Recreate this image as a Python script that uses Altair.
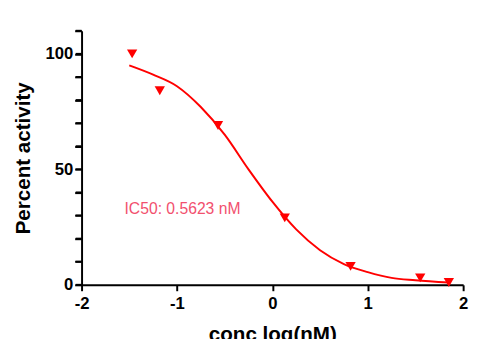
import altair as alt
import pandas as pd

# Measured data points (log concentration, percent activity)
conc_log = [-1.47, -1.18, -0.57, 0.13, 0.82, 1.55, 1.85]
activity = [100, 84, 69, 29, 8, 3, 1]

# Fitted curve
curve_x = [-1.5, -1.25, -1.0, -0.75, -0.5, -0.25, 0.0, 0.25, 0.5, 0.75, 1.0, 1.25, 1.5, 1.85]
curve_y = [95, 91, 86, 77, 65, 50, 36, 24, 15, 9, 5.5, 3, 2, 1]

label_text = ["IC50: 0.5623 nM"]
label_x = [-1.55]
label_y = [33]

y_ticks = [0, 10, 20, 30, 40, 50, 60, 70, 80, 90, 100, 110]
x_ticks = [-2, -1, 0, 1, 2]

df = pd.concat([
    pd.DataFrame({"x": conc_log, "y": activity, "kind": "pt", "t": ""}),
    pd.DataFrame({"x": curve_x, "y": curve_y, "kind": "curve", "t": ""}),
    pd.DataFrame({"x": label_x, "y": label_y, "kind": "label", "t": label_text}),
], ignore_index=True)
ticks_df = pd.DataFrame({"y": y_ticks})

FONT = "Liberation Sans"

xsc = alt.Scale(domain=[-2, 2], nice=False, zero=False)
ysc = alt.Scale(domain=[0, 110], nice=False, zero=False)

xax = alt.Axis(
    values=x_ticks, title="conc log(nM)", grid=False,
    labelExpr="toString(datum.value)", labelOverlap=False,
    labelFont=FONT, labelFontSize=17, labelFontWeight="bold", labelColor="black",
    titleFont=FONT, titleFontSize=21, titleFontWeight="bold", titleColor="black",
    domainColor="black", domainWidth=2, tickColor="black", tickWidth=2, tickSize=6,
    labelPadding=5, titlePadding=13, labelFlush=False,
)
yax = alt.Axis(
    values=y_ticks, tickCount=12, title="Percent activity", grid=False,
    labelExpr="(datum.value == 0 || datum.value == 50 || datum.value == 100) ? toString(datum.value) : ''",
    labelOverlap=False,
    labelFont=FONT, labelFontSize=17, labelFontWeight="bold", labelColor="black",
    titleFont=FONT, titleFontSize=21, titleFontWeight="bold", titleColor="black",
    domainColor="black", domainWidth=2, tickColor="black", tickWidth=2, tickSize=7,
    labelPadding=2, titlePadding=12, labelFlush=False,
)

base = alt.Chart(df).encode(
    x=alt.X("x:Q", scale=xsc, axis=xax),
    y=alt.Y("y:Q", scale=ysc, axis=yax),
)

line = base.transform_filter(alt.datum.kind == "curve").mark_line(
    color="#ff0000", strokeWidth=2, interpolate="monotone")
points = base.transform_filter(alt.datum.kind == "pt").mark_point(
    shape="triangle-down", filled=True, color="#ff0000", size=110, opacity=1)
text = base.transform_filter(alt.datum.kind == "label").mark_text(
    align="left", baseline="middle", font=FONT, fontSize=16, color="#f2506e"
).encode(text="t:N")

# y-axis minor tick marks (drawn just left of the axis line)
minor = alt.Chart(ticks_df).mark_rule(color="black", strokeWidth=2).encode(
    y=alt.Y("y:Q", scale=ysc, axis=yax),
    x=alt.value(-6), x2=alt.value(0),
)

chart = alt.layer(line, points, text, minor).properties(
    width=389, height=259,
    background="white",
    autosize=alt.AutoSizeParams(type="none"),
    padding={"left": 75, "top": 20, "right": 8, "bottom": 52},
).configure_view(strokeWidth=0)

chart.save("out.html", embed_options={"renderer": "svg", "actions": False})
